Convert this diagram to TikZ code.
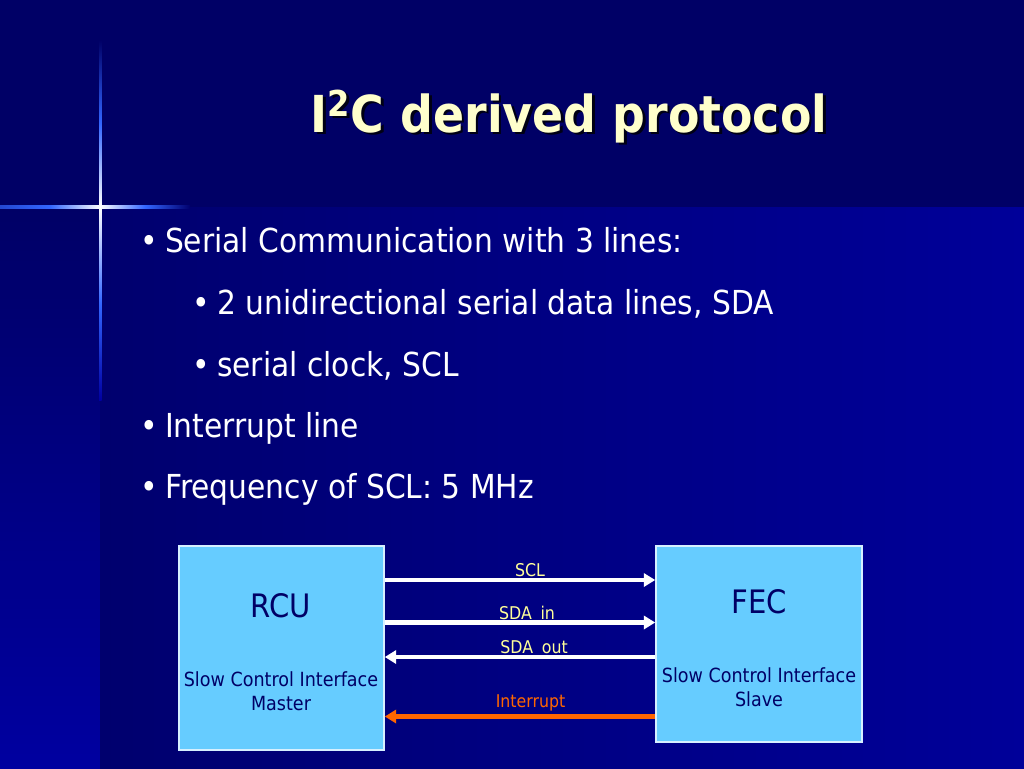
\documentclass[tikz,border=0pt]{standalone}
\usepackage{fontspec}
\setmainfont{DejaVu Sans}[FakeStretch=0.9]
\usepackage{tikz}
\usetikzlibrary{
  arrows.meta,
  positioning
}
\definecolor{slidenavy}{HTML}{000066}
\definecolor{slideblue}{HTML}{000099}
\definecolor{panelleft}{HTML}{00006E}
\definecolor{stripblue}{HTML}{0000A0}
\definecolor{glowblue}{HTML}{3366FF}
\definecolor{titlecream}{HTML}{FFFFCC}
\definecolor{boxcyan}{HTML}{66CCFF}
\definecolor{boxedge}{HTML}{D6F0FF}
\definecolor{labelyellow}{HTML}{FFFF99}
\definecolor{irqorange}{HTML}{FF6600}
\newcommand{\itm}{\makebox[0.75em][l]{\textbullet}}

\begin{document}
\begin{tikzpicture}[x=0.02cm, y=-0.02cm,
  unit/.style={draw=boxedge, line width=0.9pt, fill=boxcyan, inner sep=0pt},
  unitname/.style={anchor=base, inner sep=0pt, text=slidenavy,
                   font=\fontsize{18.4}{22}\selectfont},
  unitrole/.style={anchor=base, inner sep=0pt, text=slidenavy, align=center,
                   font=\fontsize{11.1}{13.1}\selectfont},
  item/.style={anchor=base west, inner sep=0pt, text=white,
               font=\fontsize{18.8}{22}\selectfont},
  sig/.style={line width=2.3pt, color=white, -{Triangle[length=6.5pt, width=7.5pt]}},
  sigtext/.style={anchor=base, inner sep=0pt, text=labelyellow,
                  font=\fontsize{10}{12}\selectfont}
]
  \useasboundingbox (0,0) rectangle (1024,768);
  % Background
  \fill[slidenavy] (0,0) rectangle (1024,207);
  \shade[top color=slidenavy, bottom color=stripblue] (0,207) rectangle (100,768);
  \shade[left color=panelleft, right color=slideblue] (100,207) rectangle (1024,768);
  % Glow cross
  \shade[top color=slidenavy, bottom color=white, middle color=glowblue] (99,40) rectangle (101.5,207);
  \shade[top color=white, bottom color=stripblue, middle color=glowblue] (99,207) rectangle (101.5,400);
  \shade[left color=glowblue!70!slidenavy, right color=white, middle color=glowblue] (0,205.8) rectangle (100,208.4);
  \shade[left color=white, right color=panelleft, middle color=glowblue] (100,205.8) rectangle (190,208.4);

  % Title
  \node[anchor=base, inner sep=0pt, text=black!80!slidenavy, font=\fontsize{29}{34}\selectfont\bfseries]
    (titleshadow) at (571.5,134.5) {I\textsuperscript{2}C derived protocol};
  \node[anchor=base, inner sep=0pt, text=titlecream, font=\fontsize{29}{34}\selectfont\bfseries]
    (title) at (569,132) {I\textsuperscript{2}C derived protocol};

  % Bullets
  \node[item] (lines) at (140,252) {\itm Serial Communication with 3 lines:};
  \node[item] (sda) at (192,314) {\itm 2 unidirectional serial data lines, SDA};
  \node[item] (scl) at (192,376) {\itm serial clock, SCL};
  \node[item] (irq) at (140,437) {\itm Interrupt line};
  \node[item] (freq) at (140,498) {\itm Frequency of SCL: 5 MHz};

  % RCU
  \node[unit, minimum width=4.1cm, minimum height=4.08cm] (rcu) at (281.5,648) {};
  \node[unitname] (rcuname) at (281,617) {RCU};
  \node[unitrole] (rcurole) at (281,710) {Slow Control Interface\\Master};
  % FEC
  \node[unit, minimum width=4.12cm, minimum height=3.92cm] (fec) at (759,644) {};
  \node[unitname] (fecname) at (759,613) {FEC};
  \node[unitrole] (fecrole) at (759,706) {Slow Control Interface\\Slave};

  % Signals
  \draw[sig] (rcu.east |- 0,580) -- (fec.west |- 0,580)
    node[sigtext, midway, xshift=5.7pt, yshift=1.8pt] {SCL};
  \draw[sig] (rcu.east |- 0,622.5) -- (fec.west |- 0,622.5)
    node[sigtext, midway, xshift=4pt, yshift=1.6pt] {SDA\,\,\,in};
  \draw[sig] (fec.west |- 0,657) -- (rcu.east |- 0,657)
    node[sigtext, midway, xshift=8pt, yshift=2.2pt] {SDA\,\,\,out};
  \draw[sig, color=irqorange] (fec.west |- 0,716.5) -- (rcu.east |- 0,716.5)
    node[sigtext, text=irqorange, midway, xshift=6pt, yshift=5pt] {Interrupt};
\end{tikzpicture}
\end{document}
